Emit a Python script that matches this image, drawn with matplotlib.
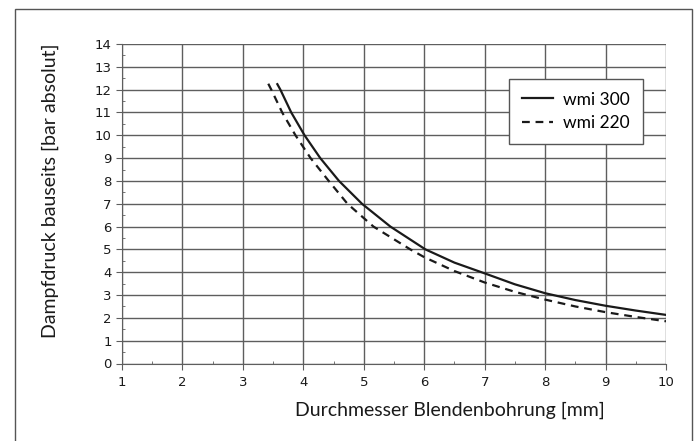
import matplotlib.pyplot as plt
from matplotlib.patches import Rectangle
from matplotlib.ticker import MultipleLocator

# wmi 300 (solid)
d300 = [3.57, 3.62, 3.80, 4.02, 4.28, 4.59, 4.97, 5.44, 6.02, 6.5, 7.0, 7.5, 8.0, 8.5, 9.0, 9.5, 10.0]
p300 = [12.24, 12.0, 11.0, 10.0, 9.0, 8.0, 7.0, 6.0, 5.0, 4.42, 3.95, 3.47, 3.08, 2.78, 2.53, 2.32, 2.13]

# wmi 220 (dashed)
d220 = [3.42, 3.47, 3.65, 3.87, 4.12, 4.42, 4.73, 5.16, 5.77, 6.0, 6.5, 7.0, 7.5, 8.0, 8.5, 9.0, 9.5, 10.0]
p220 = [12.26, 12.0, 11.0, 10.0, 9.0, 8.0, 7.0, 6.0, 5.0, 4.66, 4.05, 3.55, 3.14, 2.8, 2.5, 2.25, 2.04, 1.85]

label_font = "Lato"
grid_col = "#5e5e5e"

fig = plt.figure(figsize=(6.98, 4.41), dpi=100)
fig.patches.append(Rectangle((15 / 698, -0.02), (692 - 15) / 698, 1.02 - 9 / 441,
                             transform=fig.transFigure, fill=False,
                             edgecolor="#555555", linewidth=1.0))

ax = fig.add_axes([122 / 698, 1 - 363.5 / 441, 544 / 698, 319.5 / 441])

ax.plot(d300, p300, color="#1a1a1a", lw=1.6, label="wmi 300", zorder=3)
ax.plot(d220, p220, color="#1a1a1a", lw=1.6, dashes=(3.5, 2.6), label="wmi 220", zorder=3)

ax.set_xlim(1, 10)
ax.set_ylim(0, 14)
ax.xaxis.set_major_locator(MultipleLocator(1))
ax.xaxis.set_minor_locator(MultipleLocator(0.5))
ax.yaxis.set_major_locator(MultipleLocator(1))
ax.yaxis.set_minor_locator(MultipleLocator(0.5))

ax.grid(True, which="major", color=grid_col, lw=1.0)
ax.set_axisbelow(True)
for s in ax.spines.values():
    s.set_visible(False)
ax.spines["left"].set_visible(True)
ax.spines["bottom"].set_visible(True)
ax.spines["left"].set_color(grid_col)
ax.spines["bottom"].set_color(grid_col)

ax.tick_params(which="major", direction="out", length=4, color=grid_col,
               labelsize=9.5, labelcolor="#1a1a1a")
ax.tick_params(which="minor", direction="in", length=2.5, color=grid_col)
ax.tick_params(axis="x", which="major", pad=5)

ax.set_xlabel("Durchmesser Blendenbohrung [mm]", fontsize=14, family=label_font,
              color="#1a1a1a")
ax.xaxis.set_label_coords(0.602, -0.12)
ax.set_ylabel("Dampfdruck bauseits [bar absolut]", fontsize=14, family=label_font,
              color="#1a1a1a")
ax.yaxis.set_label_coords(-0.115, 0.54)

leg = ax.legend(loc="upper right", bbox_to_anchor=(0.958, 0.892), borderaxespad=0,
                prop={"family": label_font, "size": 12.5}, frameon=True,
                fancybox=False, handlelength=1.8, borderpad=0.75, labelspacing=0.45,
                handletextpad=0.57)
leg.get_frame().set_edgecolor("#555555")
leg.get_frame().set_linewidth(1.0)
leg.get_frame().set_alpha(1)

fig.savefig("out.png", dpi=100)
